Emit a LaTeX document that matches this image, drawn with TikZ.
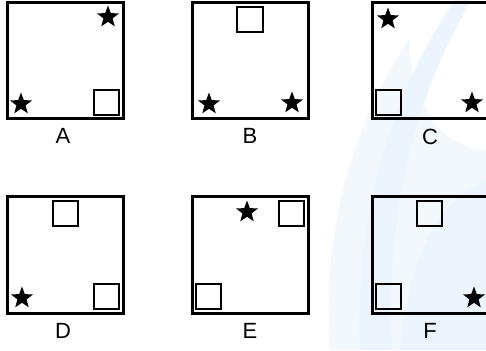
\documentclass[tikz,border=0pt]{standalone}
\usepackage{fontspec}
\setmainfont{Liberation Sans}
\usetikzlibrary{shapes.geometric}
\definecolor{wm}{HTML}{ECF5FD}
\definecolor{wm2}{HTML}{F3F8FD}
\tikzset{
  panel/.style={draw=black, line width=3pt},
  sq/.style={draw=black, line width=2.6pt},
  starn/.style={star, star points=5, star point ratio=2.4, fill=black, inner sep=0pt, minimum size=23pt},
  lab/.style={font=\fontsize{22}{22}\selectfont, inner sep=0pt}
}
\begin{document}
\begin{tikzpicture}[x=1pt,y=-1pt]
\useasboundingbox (0,0) rectangle (486,350);
\begin{scope}
\clip (0,0) rectangle (486,350);
% watermark
\fill[wm2] (330,350) .. controls (320,220) and (360,90) .. (440,0) -- (486,0) -- (486,350) -- cycle;
\fill[white] (418,0) .. controls (403,40) and (408,90) .. (440,130) .. controls (465,150) and (480,150) .. (486,150) -- (486,0) -- cycle;
\fill[wm] (360,350) .. controls (355,230) and (385,100) .. (455,0) -- (472,0) .. controls (410,100) and (385,230) .. (392,350) -- cycle;
\fill[wm] (400,350) .. controls (410,250) and (440,200) .. (486,180) -- (486,350) -- cycle;
% panels
\draw[panel] (7,3) rectangle (123,118);
\draw[panel] (192,3) rectangle (308,118);
\draw[panel] (372,3) rectangle (490,118);
\draw[panel] (7,196) rectangle (123,313);
\draw[panel] (192,196) rectangle (308,313);
\draw[panel] (372,196) rectangle (490,313);
% squares
\draw[sq] (94,90) rectangle (119,115);
\draw[sq] (237,7) rectangle (263,32);
\draw[sq] (376,90) rectangle (401,115);
\draw[sq] (53,201) rectangle (78,226);
\draw[sq] (94,284) rectangle (119,309);
\draw[sq] (279,201) rectangle (304,226);
\draw[sq] (196,284) rectangle (221,309);
\draw[sq] (417,201) rectangle (442,226);
\draw[sq] (376,284) rectangle (401,309);
\end{scope}
% stars
\node[starn] (sA1) at (108,17) {};
\node[starn] (sA2) at (21,104) {};
\node[starn] (sB1) at (209,104) {};
\node[starn] (sB2) at (292,103) {};
\node[starn] (sC1) at (388,19) {};
\node[starn] (sC2) at (472,103) {};
\node[starn] (sD1) at (22,298) {};
\node[starn] (sE1) at (247,212) {};
\node[starn] (sF1) at (474,298) {};
% labels
\node[lab] (lA) at (63,136) {A};
\node[lab] (lB) at (250,136) {B};
\node[lab] (lC) at (430,137) {C};
\node[lab] (lD) at (63,331) {D};
\node[lab] (lE) at (250,331) {E};
\node[lab] (lF) at (430,331) {F};
\end{tikzpicture}
\end{document}
